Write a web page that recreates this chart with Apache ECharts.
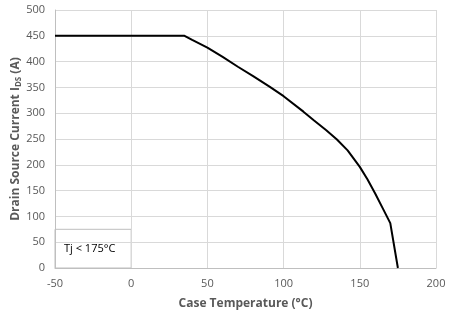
<!DOCTYPE html>
<html>
<head>
<meta charset="utf-8">
<script src="https://cdn.jsdelivr.net/npm/echarts@6/dist/echarts.min.js"></script>
<style>
  html, body { margin: 0; padding: 0; background: #fff; }
  #chart { width: 454px; height: 323px; }
</style>
</head>
<body>
<div id="chart"></div>
<script>
// Derating curve: case temperature (°C) vs. max drain-source current (A)
const caseTemp = [-50, 35, 40, 50, 60, 70, 80, 91, 100, 113, 120, 128, 135, 142, 150, 155, 160, 165, 170, 175];
const drainCurrent = [450, 450, 442, 427, 409, 390, 372, 351, 333, 303, 286, 267, 249, 228, 196, 172, 145, 116, 87, 0];

const xTicks = { min: -50, max: 200, step: 50 };
const yTicks = { min: 0, max: 500, step: 50 };
const noteText = 'Tj < 175°C';

const FONT = '"Open Sans", "Liberation Sans", sans-serif';
const TEXT_GRAY = '#595959';

const chart = echarts.init(document.getElementById('chart'), null, { renderer: 'canvas' });

const points = caseTemp.map((t, i) => [t, drainCurrent[i]]);

chart.setOption({
  animation: false,
  grid: { left: 55, right: 18, top: 10, bottom: 55, containLabel: false, outerBoundsMode: 'none' },
  xAxis: {
    type: 'value',
    min: xTicks.min, max: xTicks.max, interval: xTicks.step,
    name: 'Case Temperature (°C)',
    nameLocation: 'middle',
    nameGap: 30,
    nameMoveOverlap: false,
    nameTextStyle: { color: TEXT_GRAY, fontFamily: FONT, fontSize: 12, fontWeight: 'bold' },
    axisLine: { show: true, onZero: false, lineStyle: { color: '#bfbfbf', width: 1 } },
    axisTick: { show: false },
    axisLabel: { color: TEXT_GRAY, fontFamily: FONT, fontSize: 11, margin: 10 },
    splitLine: { show: true, lineStyle: { color: '#d9d9d9', width: 1 } }
  },
  yAxis: {
    type: 'value',
    min: yTicks.min, max: yTicks.max, interval: yTicks.step,
    name: '{b|Drain Source Current I}{s|DS}{b| (A)}',
    nameLocation: 'middle',
    nameGap: 32,
    nameMoveOverlap: false,
    nameRotate: 90,
    nameTextStyle: {
      rich: {
        b: { color: TEXT_GRAY, fontFamily: FONT, fontSize: 12, fontWeight: 'bold' },
        s: { color: TEXT_GRAY, fontFamily: FONT, fontSize: 8, fontWeight: 'bold', padding: [6, 0, 0, 0] }
      }
    },
    axisLine: { show: true, onZero: false, lineStyle: { color: '#bfbfbf', width: 1 } },
    axisTick: { show: false },
    axisLabel: { color: TEXT_GRAY, fontFamily: FONT, fontSize: 11, margin: 10 },
    splitLine: { show: true, lineStyle: { color: '#d9d9d9', width: 1 } }
  },
  series: [{
    type: 'line',
    data: points,
    showSymbol: false,
    smooth: false,
    lineStyle: { color: '#000', width: 2 },
    z: 5
  }],
  graphic: []
});

// Annotation box in the lower-left corner of the plot, anchored to axis values
function placeNote() {
  const tl = chart.convertToPixel({ gridIndex: 0 }, [-50, 75]);
  const br = chart.convertToPixel({ gridIndex: 0 }, [0, 0]);
  chart.setOption({
    graphic: [{
      type: 'group',
      z: 10,
      children: [
        {
          type: 'rect',
          shape: { x: tl[0], y: tl[1], width: br[0] - tl[0], height: br[1] - tl[1] },
          style: { fill: '#fff', stroke: '#bfbfbf', lineWidth: 1 }
        },
        {
          type: 'text',
          x: tl[0] + 9, y: (tl[1] + br[1]) / 2,
          style: { text: noteText, fill: '#000', font: '11px ' + FONT, textVerticalAlign: 'middle' }
        }
      ]
    }]
  });
}
placeNote();
</script>
</body>
</html>
